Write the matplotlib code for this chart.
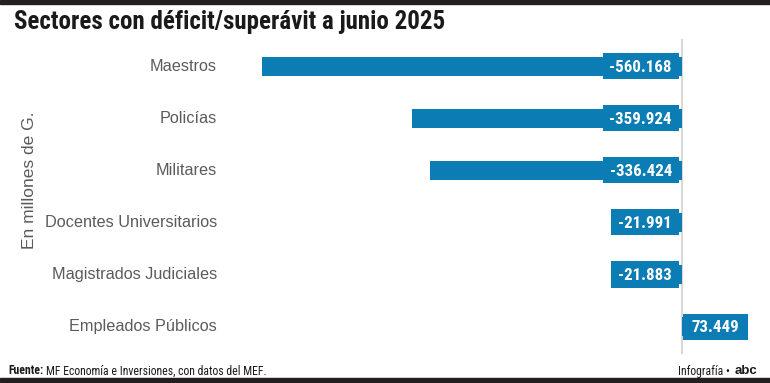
import matplotlib
matplotlib.use("Agg")
import matplotlib.pyplot as plt
from matplotlib import font_manager as fm
from matplotlib.patches import Rectangle

categories = ["Maestros", "Policías", "Militares", "Docentes Universitarios",
              "Magistrados Judiciales", "Empleados Públicos"]
values = [-560.168, -359.924, -336.424, -21.991, -21.883, 73.449]
value_labels = ["-560.168", "-359.924", "-336.424", "-21.991", "-21.883", "73.449"]

title = "Sectores con déficit/superávit a junio 2025"
ylabel = "En millones de G."
source_bold = "Fuente:"
source_text = "MF Economía e Inversiones, con datos del MEF."
credit = "Infografía • "
credit_logo = "abc"

BLUE = "#0b7db4"
GRAY_TXT = "#5b5b5b"
DARK = "#231f20"

names = {f.name for f in fm.fontManager.ttflist}
def pick(*cands):
    for c in cands:
        if c in names:
            return c
    return "DejaVu Sans"

narrow = pick("Roboto Condensed", "Open Sans Condensed", "Liberation Sans Narrow",
              "DejaVu Sans")
regular = pick("Liberation Sans", "DejaVu Sans")
stretch = "condensed" if narrow == "DejaVu Sans" else "normal"

W, H = 770, 383
fig = plt.figure(figsize=(W / 100, H / 100), dpi=100)
ax = fig.add_axes([0, 0, 1, 1])
ax.set_axis_off()

zero_px = 682.0
scale = 0.75  # px per unit
row0 = 66.5
step = 52.0
ax.set_xlim(-zero_px / scale, (W - zero_px) / scale)
ax.set_ylim((H - row0) / step, -row0 / step)

def px_to_y(py):
    return (py - row0) / step
def px_to_x(px):
    return (px - zero_px) / scale

# top / bottom dark bands
fig.patches.append(Rectangle((0, 1 - 4 / H), 1, 4 / H, transform=fig.transFigure,
                             color=DARK, zorder=0))
fig.patches.append(Rectangle((0, 0), 1, 5 / H, transform=fig.transFigure,
                             color=DARK, zorder=0))

# zero line
ax.plot([0, 0], [px_to_y(40), px_to_y(353)], color="#d8d8d8", lw=1.5, zorder=1)

ypos = list(range(len(categories)))
ax.barh(ypos, values, height=19 / step, color=BLUE, zorder=2)

for i, (c, lab, v) in enumerate(zip(categories, value_labels, values)):
    ax.text(px_to_x(217), i, c, ha="right", va="center", fontsize=11.7,
            color=GRAY_TXT, family=regular)
    if v < 0:
        t = ax.text(px_to_x(672), i + 0.02, lab, ha="right", va="center",
                    fontsize=12.2, color="white", fontweight="bold",
                    family=narrow, fontstretch=stretch, zorder=4)
    else:
        t = ax.text(px_to_x(691), i + 0.02, lab, ha="left", va="center",
                    fontsize=12.2, color="white", fontweight="bold",
                    family=narrow, fontstretch=stretch, zorder=4)
    t._val = v

fig.canvas.draw()
r = fig.canvas.get_renderer()
for t in ax.texts:
    if hasattr(t, "_val"):
        bb = t.get_window_extent(r)
        if t._val < 0:
            x0 = bb.x0 - 7
            x1 = 679
        else:
            x0 = 683
            x1 = bb.x1 + 9
        y = t.get_position()[1]
        y0 = y - 0.02 - 13 / step
        ax.add_patch(Rectangle((px_to_x(x0), y0), (x1 - x0) / scale, 26 / step,
                               color=BLUE, zorder=3, lw=0))

# y label
fig.text(30 / W, 1 - 180 / H, ylabel, rotation=90, ha="center", va="center",
         fontsize=12.5, color=GRAY_TXT, family=regular)

# title
fig.text(14 / W, 1 - 29.5 / H, title, ha="left", va="baseline", fontsize=18,
         fontweight="bold", color="#1a1a1a", family=narrow, fontstretch=stretch)

# footer
fy = 1 - 371 / H
tb = fig.text(8 / W, fy, source_bold, ha="left", va="center", fontsize=8.5,
              fontweight="bold", color="#1a1a1a", family=narrow, fontstretch=stretch)
fig.canvas.draw()
bb = tb.get_window_extent(r)
fig.text((bb.x1 + 3) / W, fy, source_text, ha="left", va="center",
         fontsize=8.5, color="#1a1a1a", family=narrow, fontstretch=stretch)

tl = fig.text(757 / W, fy, credit_logo, ha="right", va="center", fontsize=9.5,
              fontweight="bold", color="#1a1a1a", family=regular)
fig.canvas.draw()
bb = tl.get_window_extent(r)
fig.text((bb.x0 - 1) / W, fy, credit, ha="right", va="center", fontsize=8.5,
         color="#1a1a1a", family=narrow, fontstretch=stretch)

fig.savefig("out.png", dpi=100)
